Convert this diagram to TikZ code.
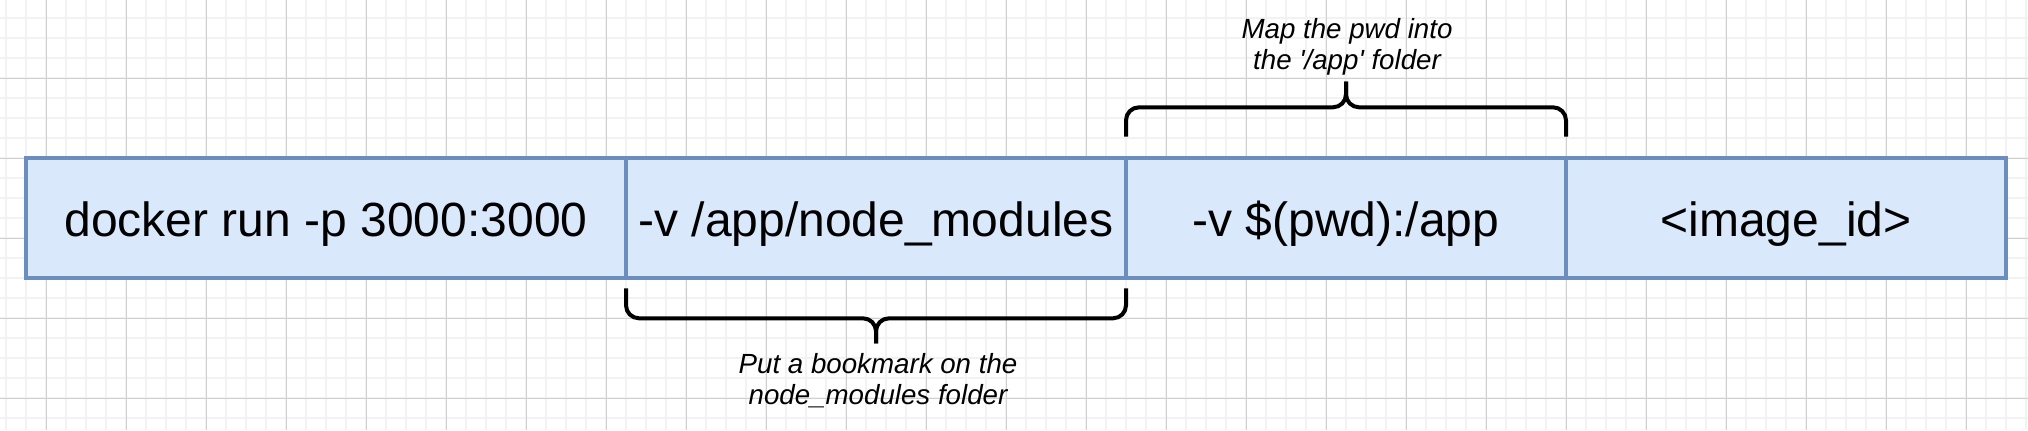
\documentclass[tikz,border=0pt]{standalone}
\usepackage{fontspec}
\newfontfamily\dfont{Liberation Sans}
\usetikzlibrary{calc}
\definecolor{boxfill}{HTML}{DAE8FC}
\definecolor{boxline}{HTML}{6C8EBF}
\definecolor{gridmajor}{HTML}{D0D0D0}
\definecolor{gridminor}{HTML}{F2F2F2}
\begin{document}
\begin{tikzpicture}[x=0.5pt,y=-0.5pt,
  cell/.style={draw=boxline, fill=boxfill, line width=2pt, inner sep=0pt, outer sep=0pt,
    minimum height=60pt, anchor=west, font=\dfont\fontsize{24pt}{28pt}\selectfont,
    text height=18.7pt, text depth=0pt},
  brace/.style={draw=black, line width=2pt, rounded corners=6.5pt},
  lbl/.style={font=\dfont\itshape\fontsize{13.85pt}{15.5pt}\selectfont, align=center,
    inner sep=0pt, anchor=north}]
\useasboundingbox (0,0) rectangle (2028,430);
\begin{scope}
\clip (0,0) rectangle (2028,430);
\fill[white] (0,0) rectangle (2028,430);
\foreach \i in {0,...,101} \draw[gridminor, line width=1pt] ({6.4+20*\i},0) -- ({6.4+20*\i},430);
\foreach \j in {0,...,21} \draw[gridminor, line width=1pt] (0,{-1.7+20*\j}) -- (2028,{-1.7+20*\j});
\foreach \i in {0,...,24} \draw[gridmajor, line width=0.5pt] ({46.4+80*\i},0) -- ({46.4+80*\i},430);
\foreach \j in {0,...,5} \draw[gridmajor, line width=0.5pt] (0,{-1.7+80*\j}) -- (2028,{-1.7+80*\j});
\end{scope}

\node[cell, minimum width=300pt] (c1) at (26,218) {docker run -p 3000:3000};
\node[cell, minimum width=250pt] (c2) at (c1.east) {-v /app/node\_modules};
\node[cell, minimum width=220pt] (c3) at (c2.east) {-v \$(pwd):/app};
\node[cell, minimum width=220pt] (c4) at (c3.east) {<image\_id>};

\coordinate (tl) at ($(c3.north west)+(0,-21.3)$);
\coordinate (tr) at ($(c3.north east)+(0,-21.3)$);
\coordinate (tmid) at ($(c3.north)+(0,-50.7)$);
\coordinate (tm) at ($(c3.north)+(0,-76.3)$);
\draw[brace] (tl) |- (tmid) -- (tm);
\draw[brace] (tr) |- (tmid) -- (tm);

\coordinate (bl) at ($(c2.south west)+(0,10.3)$);
\coordinate (br) at ($(c2.south east)+(0,10.3)$);
\coordinate (bmid) at ($(c2.south)+(0,40.3)$);
\coordinate (bm) at ($(c2.south)+(0,65.3)$);
\draw[brace] (bl) |- (bmid) -- (bm);
\draw[brace] (br) |- (bmid) -- (bm);

\node[lbl] (ltop) at ($(tm)+(1,-63.7)$) {Map the pwd into\\the '/app' folder};
\node[lbl] (lbot) at ($(bm)+(2,10.2)$) {Put a bookmark on the\\node\_modules folder};
\end{tikzpicture}
\end{document}
